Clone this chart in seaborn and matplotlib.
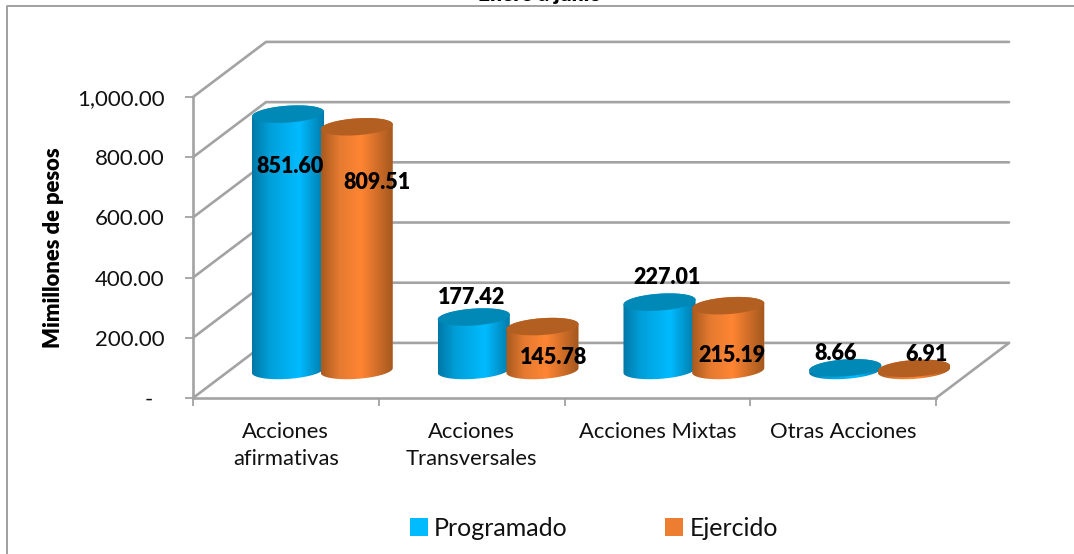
# -*- coding:utf-8 -*-
import numpy as np
import pandas as pd
import matplotlib.pyplot as plt
import seaborn as sns
from matplotlib.colors import LinearSegmentedColormap
from matplotlib.lines import Line2D
from matplotlib.patches import PathPatch
from matplotlib.path import Path

categorias = ['Acciones\nafirmativas', 'Acciones\nTransversales', 'Acciones Mixtas', 'Otras Acciones']
programado = [851.60, 177.42, 227.01, 8.66]
ejercido = [809.51, 145.78, 215.19, 6.91]
series = ['Programado', 'Ejercido']
ticks_y = [0, 200, 400, 600, 800, 1000]
etiquetas_y = ['-  ', '200.00', '400.00', '600.00', '800.00', '1,000.00']

# desplazamiento de cada etiqueta respecto a la tapa de su cilindro, en pixeles
offsets_prog = [(2, -52), (-2, 20), (7, 25), (-10, 14)]
offsets_ejer = [(20, -56), (11, -31), (4, -50), (13, 14)]

sns.set_theme(style='white')
plt.rcParams['font.family'] = ['Lato', 'DejaVu Sans']
GRIS = '#a3a3a3'

df = pd.DataFrame({
    'categoria': categorias * 2,
    'serie': [series[0]] * 4 + [series[1]] * 4,
    'valor': programado + ejercido,
})

fig = plt.figure(figsize=(10.74, 5.54), dpi=100)
ax = fig.add_axes([193 / 1074, 156 / 554, 743 / 1074, 301 / 554])
sns.barplot(data=df, x='categoria', y='valor', hue='serie', palette=['#00BBFF', '#ED7D31'],
            width=0.74, gap=0, saturation=1, errorbar=None, ax=ax)

# profundidad de la caja 3D en unidades de datos
fondo_x, fondo_y = 0.393, 183
x_ini, x_fin = -0.5, 3.5

# paredes y piso
for t in ticks_y:
    ax.plot([x_ini, x_ini + fondo_x, x_fin + fondo_x], [t, t + fondo_y, t + fondo_y],
            color=GRIS, lw=1.9, zorder=1, clip_on=False, solid_joinstyle='miter')
ax.plot([x_fin, x_fin + fondo_x], [0, fondo_y], color=GRIS, lw=1.9, zorder=1, clip_on=False)

mapas = [
    LinearSegmentedColormap.from_list('azul', [(0, '#0078A6'), (0.25, '#00A0DA'), (0.65, '#00BBFF'), (1, '#0078A6')]),
    LinearSegmentedColormap.from_list('naranja', [(0, '#A85A1E'), (0.25, '#E57A30'), (0.55, '#FF8533'), (1, '#A2571E')]),
]
tapas = ['#0088B6', '#B45F22']
eje_a, eje_b, giro = 0.194, 28, 8
angulos = np.linspace(0, 2 * np.pi, 90)
grad = np.linspace(0, 1, 256).reshape(1, -1)

# cada barra de seaborn se lleva al centro de la caja y se convierte en cilindro
for s, contenedor in enumerate(ax.containers):
    offsets = offsets_prog if s == 0 else offsets_ejer
    for i, barra in enumerate(contenedor):
        cx = barra.get_x() + barra.get_width() / 2 + fondo_x / 2
        base = fondo_y / 2
        tope = base + barra.get_height()
        barra.set_x(cx - barra.get_width() / 2)
        barra.set_y(base)
        barra.set_zorder(2 + i * 4 + s)
        barra.set_clip_on(False)

        sup = np.linspace(np.pi, 0, 45)
        inf = np.linspace(0, -np.pi, 45)
        xs = cx + eje_a * np.concatenate([np.cos(inf), np.cos(sup)])
        ys = np.concatenate([base + eje_b * np.sin(inf) + giro * np.cos(inf),
                             tope + eje_b * np.sin(sup) + giro * np.cos(sup)])
        cuerpo = Path(np.column_stack([xs, ys]))
        im = ax.imshow(grad, cmap=mapas[s], aspect='auto', zorder=2.5 + i * 4 + s,
                       extent=(cx - eje_a, cx + eje_a, base - eje_b - giro, tope + eje_b + giro))
        im.set_clip_path(cuerpo, ax.transData)
        im.set_clip_box(fig.bbox)

        tapa = Path(np.column_stack([cx + eje_a * np.cos(angulos),
                                     tope + eje_b * np.sin(angulos) + giro * np.cos(angulos)]))
        ax.add_patch(PathPatch(tapa, facecolor=tapas[s], edgecolor='none', zorder=2.7 + i * 4 + s, clip_on=False))

        ax.annotate(f'{barra.get_height():,.2f}', (cx, tope), xytext=offsets[i], textcoords='offset pixels',
                    ha='center', va='center', fontsize=15.5, fontweight='heavy', color='black',
                    zorder=40, annotation_clip=False)

ax.set_xlim(x_ini, x_fin)
ax.set_ylim(0, 1000)
ax.set_yticks(ticks_y, etiquetas_y)
ax.set_xticks(range(4), categorias)
ax.set_xticks(np.arange(x_ini, x_fin + 0.5, 1), minor=True)
ax.tick_params(axis='x', which='major', length=0, pad=17.5, labelsize=15.8, colors='#111111')
ax.tick_params(axis='x', which='minor', bottom=True, length=5.5, width=1.3, color=GRIS)
ax.tick_params(axis='y', left=True, length=5.5, width=1.3, color=GRIS, pad=15, labelsize=16, labelcolor='#111111')
for lbl in ax.get_xticklabels():
    lbl.set_linespacing(1.42)
ax.set_xlabel('')
ax.set_ylabel('Mimillones de pesos', fontsize=15.8, fontweight='heavy', color='black', labelpad=9)
sns.despine(ax=ax)
for lado in ['left', 'bottom']:
    ax.spines[lado].set_color(GRIS)
    ax.spines[lado].set_linewidth(1.9)

sns.move_legend(ax, 'center', bbox_to_anchor=(594 / 1074, 1 - 528 / 554), bbox_transform=fig.transFigure,
                ncols=2, title=None, frameon=False, fontsize=18, handlelength=0.72, handleheight=0.72,
                handletextpad=0.25, columnspacing=3.9, labelcolor='#111111')
for h in ax.get_legend().legend_handles:
    h.set_linewidth(0)

# marco del grafico, abierto abajo y a la derecha
fig.add_artist(Line2D([7 / 1074, 7 / 1074, 1], [0, 1 - 6 / 554, 1 - 6 / 554], color='#a0a0a0', lw=1.4))
# titulo cortado por el borde superior
fig.text(478 / 1074, 1 - 1 / 554, 'Enero a junio', fontsize=15, fontweight='heavy', color='black', va='baseline')

plt.savefig('out.png', dpi=100)
